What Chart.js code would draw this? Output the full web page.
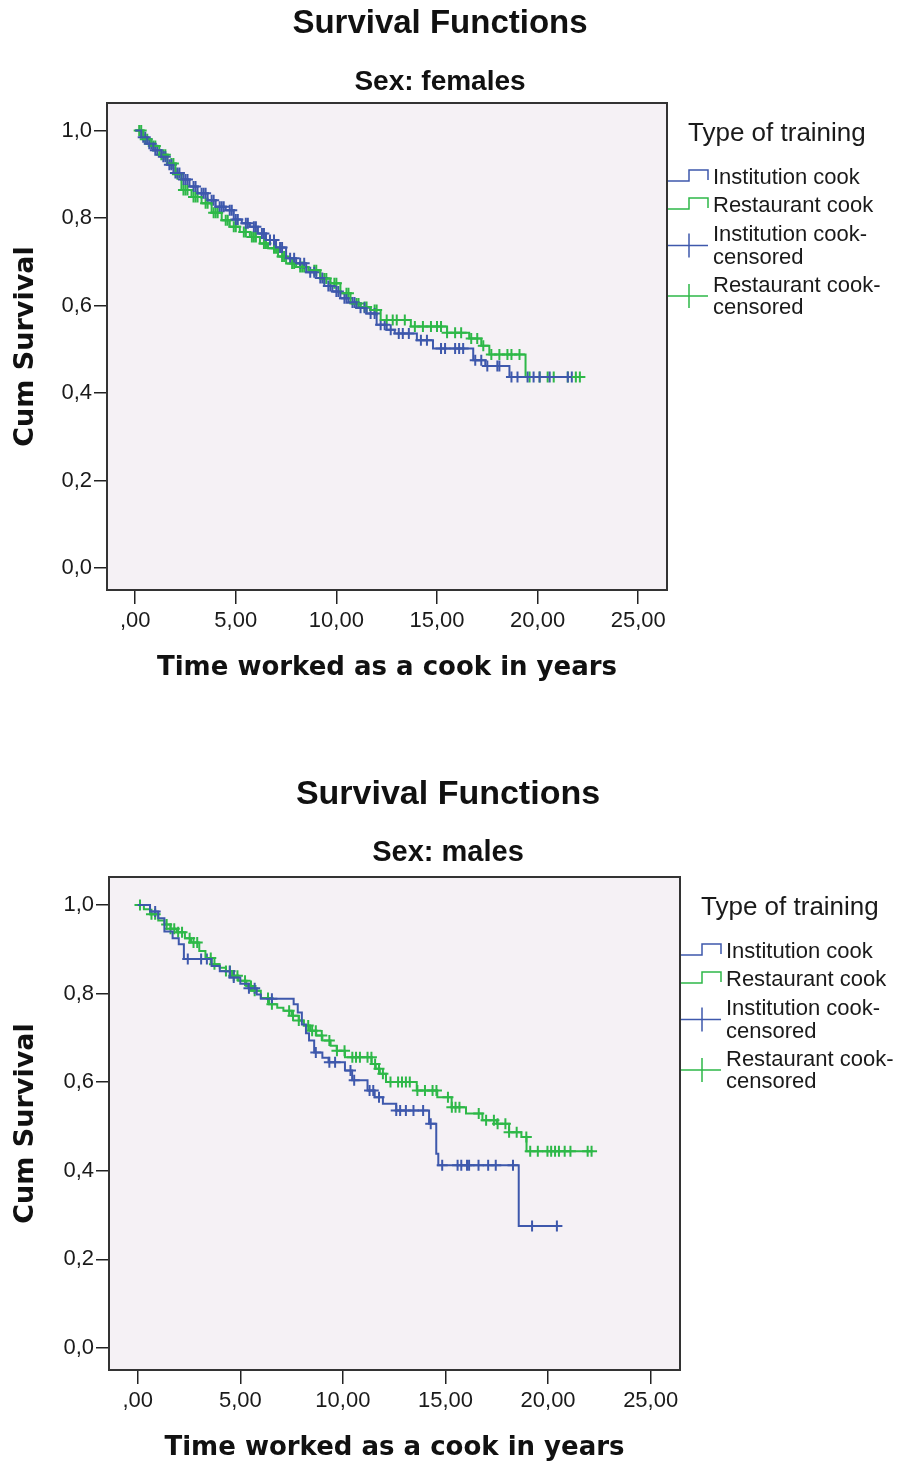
<!DOCTYPE html>
<html>
<head>
<meta charset="utf-8">
<script src="https://cdn.jsdelivr.net/npm/chart.js@4.4.1/dist/chart.umd.min.js"></script>
<style>
  body { margin: 0; background: #fff; }
  canvas { display: block; }
</style>
</head>
<body>
<canvas id="chartF" width="906" height="733"></canvas>
<canvas id="chartM" width="906" height="733"></canvas>
<script>
// axis ticks + labels (SPSS style, comma decimals)
const xTicks = [0, 5, 10, 15, 20, 25];
const xTickLabels = [',00', '5,00', '10,00', '15,00', '20,00', '25,00'];
const yTicks = [0, 0.2, 0.4, 0.6, 0.8, 1.0];
const yTickLabels = ['0,0', '0,2', '0,4', '0,6', '0,8', '1,0'];

const legendTitle = 'Type of training';
const legendLabels = ['Institution cook', 'Restaurant cook', ['Institution cook-', 'censored'], ['Restaurant cook-', 'censored']];

// females - Kaplan-Meier steps (time in years, cum survival)
const femInstT = [0, 0.3, 0.6, 0.9, 1.3, 1.6, 1.9, 2.3, 2.7, 3.1, 3.6, 4.0, 4.5, 4.9, 5.3, 5.7, 6.1, 6.5, 7.0, 7.5, 8.0, 8.5, 9.0, 9.4, 9.8, 10.2, 10.6, 11.0, 11.5, 12.0, 12.5, 12.9, 14.0, 14.8, 16.8, 17.4, 18.6, 21.7];
const femInstS = [1.0, 0.985, 0.97, 0.955, 0.94, 0.922, 0.903, 0.888, 0.872, 0.857, 0.841, 0.826, 0.818, 0.797, 0.788, 0.78, 0.765, 0.75, 0.733, 0.708, 0.697, 0.676, 0.663, 0.645, 0.632, 0.617, 0.607, 0.595, 0.582, 0.556, 0.545, 0.536, 0.521, 0.502, 0.475, 0.462, 0.437, 0.437];
const femInstCens = [0.4, 0.5, 0.7, 0.8, 1.0, 1.1, 1.4, 1.5, 1.7, 1.8, 2.0, 2.1, 2.2, 2.4, 2.5, 2.6, 2.9, 3.0, 3.3, 3.4, 3.5, 3.8, 3.9, 4.2, 4.3, 4.4, 4.7, 4.8, 5.0, 5.1, 5.5, 5.6, 5.9, 6.0, 6.3, 6.4, 6.7, 6.9, 7.2, 7.3, 7.7, 7.9, 8.2, 8.4, 8.7, 8.9, 9.2, 9.3, 9.6, 9.7, 10.0, 10.1, 10.4, 10.5, 10.8, 10.9, 11.2, 11.4, 11.7, 11.9, 12.2, 12.4, 12.7, 13.1, 13.3, 13.6, 14.2, 14.5, 15.2, 15.4, 15.9, 16.1, 16.3, 16.9, 17.2, 17.5, 18.0, 18.1, 18.7, 19.0, 19.5, 19.8, 20.1, 20.6, 21.5, 21.7];

const femRestT = [0, 0.4, 0.8, 1.2, 1.6, 2.0, 2.3, 2.8, 3.3, 3.8, 4.3, 4.7, 5.2, 5.7, 6.2, 6.6, 7.1, 7.5, 8.0, 8.6, 9.2, 9.7, 10.2, 10.7, 11.2, 11.7, 12.2, 13.7, 15.5, 16.6, 17.2, 17.6, 19.4, 22.1];
const femRestS = [1.0, 0.98, 0.965, 0.945, 0.925, 0.9, 0.864, 0.848, 0.834, 0.812, 0.795, 0.78, 0.768, 0.757, 0.742, 0.731, 0.712, 0.696, 0.688, 0.681, 0.662, 0.651, 0.628, 0.605, 0.597, 0.59, 0.567, 0.552, 0.538, 0.525, 0.508, 0.488, 0.437, 0.437];
const femRestCens = [0.2, 0.3, 0.5, 0.6, 0.9, 1.0, 1.3, 1.4, 1.5, 1.8, 1.9, 2.1, 2.4, 2.5, 2.6, 2.9, 3.0, 3.1, 3.5, 3.6, 3.9, 4.0, 4.1, 4.5, 4.6, 4.9, 5.0, 5.4, 5.5, 5.8, 5.9, 6.0, 6.4, 6.5, 6.9, 7.0, 7.3, 7.4, 7.8, 7.9, 8.2, 8.3, 8.4, 8.9, 9.0, 9.4, 9.5, 9.9, 10.0, 10.5, 10.6, 11.0, 11.1, 11.4, 11.5, 11.9, 12.0, 12.5, 12.8, 13.0, 13.4, 13.9, 14.3, 14.7, 15.0, 15.2, 15.5, 15.9, 16.2, 16.7, 17.0, 17.3, 17.7, 18.1, 18.5, 18.7, 19.1, 19.6, 20.1, 20.5, 20.8, 21.5, 21.9, 22.1];

// males
const maleInstT = [0, 0.6, 1.0, 1.3, 1.7, 2.0, 2.25, 3.6, 4.0, 4.5, 5.0, 5.4, 5.8, 6.0, 7.6, 7.8, 8.0, 8.2, 8.35, 8.6, 9.0, 9.3, 10.1, 10.45, 11.2, 11.55, 11.95, 12.6, 14.2, 14.55, 14.65, 18.57, 20.43];
const maleInstS = [1.0, 0.985, 0.97, 0.94, 0.925, 0.911, 0.878, 0.862, 0.85, 0.836, 0.822, 0.812, 0.798, 0.788, 0.776, 0.757, 0.73, 0.71, 0.694, 0.667, 0.655, 0.645, 0.626, 0.604, 0.581, 0.566, 0.551, 0.536, 0.506, 0.438, 0.412, 0.275, 0.275];
const maleInstCens = [0.85, 2.44, 3.09, 3.37, 4.49, 4.68, 5.42, 5.7, 6.54, 8.68, 9.34, 9.62, 10.37, 10.55, 11.3, 11.48, 11.76, 12.6, 12.79, 13.07, 13.44, 13.91, 14.28, 14.84, 15.59, 15.77, 16.05, 16.15, 16.61, 17.08, 17.45, 18.29, 19.22, 20.43];

const maleRestT = [0, 0.3, 0.6, 1.0, 1.3, 1.6, 1.9, 2.3, 2.6, 3.0, 3.3, 3.6, 4.0, 4.3, 4.6, 4.9, 5.3, 5.6, 6.0, 6.4, 6.8, 7.1, 7.5, 7.85, 8.1, 8.4, 8.7, 9.0, 9.4, 9.7, 10.1, 11.4, 11.6, 11.8, 12.1, 13.6, 14.6, 15.3, 16.0, 16.8, 17.5, 18.1, 18.7, 18.95, 22.12];
const maleRestS = [1.0, 0.99, 0.979, 0.965, 0.956, 0.946, 0.938, 0.925, 0.915, 0.896, 0.88, 0.866, 0.858, 0.851, 0.84, 0.829, 0.817, 0.806, 0.79, 0.776, 0.768, 0.761, 0.75, 0.739, 0.728, 0.716, 0.705, 0.694, 0.682, 0.671, 0.656, 0.641, 0.63, 0.619, 0.6, 0.581, 0.566, 0.543, 0.529, 0.514, 0.506, 0.487, 0.476, 0.444, 0.444];
const maleRestCens = [0.11, 0.67, 0.85, 1.41, 1.6, 1.78, 1.97, 2.16, 2.53, 2.72, 2.9, 3.56, 3.74, 4.3, 4.49, 4.68, 4.86, 5.23, 5.52, 5.7, 6.35, 6.54, 7.38, 7.57, 7.85, 8.31, 8.5, 8.68, 8.97, 9.34, 9.71, 10.08, 10.46, 10.64, 10.83, 11.2, 11.39, 11.57, 11.76, 11.95, 12.32, 12.69, 12.88, 13.07, 13.26, 13.63, 14.0, 14.37, 14.56, 15.12, 15.31, 15.49, 15.68, 16.62, 16.98, 17.36, 17.54, 17.92, 18.1, 18.47, 18.94, 19.13, 19.5, 19.97, 20.15, 20.34, 20.53, 20.81, 21.09, 21.93, 22.12];

const BLUE = '#3e58ac';
const GREEN = '#2eb848';
const SANS = '"Liberation Sans", Arial, sans-serif';

Chart.defaults.font.family = SANS;
Chart.defaults.color = '#1a1a1a';

// survival value at time t (value of the step curve)
function kmAt(ts, ss, t) {
  let s = ss[0];
  for (let i = 0; i < ts.length; i++) {
    if (ts[i] <= t) s = ss[i];
  }
  return s;
}

function kmSet(ts, ss, color) {
  return {
    data: ts.map((t, i) => ({ x: t, y: ss[i] })),
    showLine: true, stepped: true, borderColor: color, borderWidth: 2,
    pointRadius: 0, fill: false
  };
}

function censSet(cs, ts, ss, color) {
  return {
    data: cs.map(t => ({ x: t, y: kmAt(ts, ss, t) })),
    showLine: false, pointStyle: 'cross', pointRadius: 5.5,
    borderColor: color, backgroundColor: color, borderWidth: 2
  };
}

const plotFrame = {
  id: 'plotFrame',
  beforeDraw(chart) {
    const a = chart.chartArea, c = chart.ctx;
    c.save();
    c.fillStyle = '#f5f1f5';
    c.fillRect(a.left, a.top, a.right - a.left, a.bottom - a.top);
    c.restore();
  },
  afterDatasetsDraw(chart) {
    const a = chart.chartArea, c = chart.ctx;
    c.save();
    c.strokeStyle = '#333';
    c.lineWidth = 2;
    c.strokeRect(a.left, a.top, a.right - a.left, a.bottom - a.top);
    c.restore();
  }
};

const heading = {
  id: 'heading',
  afterDraw(chart, args, o) {
    const c = chart.ctx;
    c.save();
    c.fillStyle = '#111';
    c.textAlign = 'center';
    c.textBaseline = 'middle';
    c.font = 'bold ' + o.size1 + 'px ' + SANS;
    c.fillText(o.title, o.x, o.y1);
    c.font = 'bold ' + o.size2 + 'px ' + SANS;
    c.fillText(o.sub, o.x, o.y2);
    c.restore();
  }
};

const kmLegend = {
  id: 'kmLegend',
  afterDraw(chart) {
    const c = chart.ctx, R = chart.chartArea.right, T = chart.chartArea.top;
    const rows = [T + 75, T + 103, [T + 132, T + 155], [T + 183, T + 205]];
    const colors = [BLUE, GREEN, BLUE, GREEN];
    c.save();
    c.fillStyle = '#1a1a1a';
    c.textAlign = 'left';
    c.textBaseline = 'middle';
    c.font = '26px ' + SANS;
    c.fillText(legendTitle, R + 21, T + 31);
    c.font = '22px ' + SANS;
    c.lineWidth = 1.5;
    legendLabels.forEach((lab, i) => {
      c.strokeStyle = colors[i];
      c.beginPath();
      if (i < 2) {
        const cy = rows[i];
        c.moveTo(R + 1, cy + 3);
        c.lineTo(R + 22, cy + 3);
        c.lineTo(R + 22, cy - 8);
        c.lineTo(R + 41, cy - 8);
        c.lineTo(R + 41, cy + 2);
        c.stroke();
        c.fillText(lab, R + 46, cy);
      } else {
        const cy = (rows[i][0] + rows[i][1]) / 2 - 1;
        c.moveTo(R + 1, cy);
        c.lineTo(R + 41, cy);
        c.moveTo(R + 22, cy - 12);
        c.lineTo(R + 22, cy + 12);
        c.stroke();
        c.fillText(lab[0], R + 46, rows[i][0]);
        c.fillText(lab[1], R + 46, rows[i][1]);
      }
    });
    c.restore();
  }
};

function makeChart(id, sets, o) {
  return new Chart(document.getElementById(id), {
    type: 'scatter',
    data: { datasets: sets },
    plugins: [plotFrame, heading, kmLegend],
    options: {
      responsive: false,
      animation: false,
      events: [],
      layout: { padding: { left: 0, right: o.padRight, top: o.padTop, bottom: 0 } },
      plugins: {
        legend: { display: false },
        tooltip: { enabled: false },
        heading: o.heading
      },
      scales: {
        x: {
          type: 'linear', min: -1.4, max: 26.43,
          afterBuildTicks: s => { s.ticks = xTicks.map(v => ({ value: v })); },
          afterFit: s => { s.height = o.xHeight; },
          ticks: { callback: (v, i) => xTickLabels[i], font: { size: 22 }, padding: 4, maxRotation: 0, autoSkip: false },
          grid: { drawOnChartArea: false, drawTicks: true, tickLength: 14, color: '#222', lineWidth: 1.5 },
          border: { display: false },
          title: {
            display: true, text: 'Time worked as a cook in years', color: '#111',
            font: { family: '"DejaVu Sans"', size: 26, weight: 'bold' },
            padding: { top: 0, bottom: o.xTitlePad }
          }
        },
        y: {
          min: -0.05, max: 1.063,
          afterBuildTicks: s => { s.ticks = yTicks.map(v => ({ value: v })); },
          afterFit: s => { s.width = o.yWidth; },
          ticks: { callback: (v, i) => yTickLabels[i], font: { size: 22 }, padding: 2 },
          grid: { drawOnChartArea: false, drawTicks: true, tickLength: 13, color: '#222', lineWidth: 1.5 },
          border: { display: false },
          title: {
            display: true, text: 'Cum Survival', color: '#111',
            font: { family: '"DejaVu Sans"', size: 27, weight: 'bold' },
            padding: { top: 10, bottom: 0 }
          }
        }
      }
    }
  });
}

makeChart('chartF', [
  kmSet(femInstT, femInstS, BLUE),
  kmSet(femRestT, femRestS, GREEN),
  censSet(femInstCens, femInstT, femInstS, BLUE),
  censSet(femRestCens, femRestT, femRestS, GREEN)
], {
  padRight: 239, padTop: 103, xHeight: 143, yWidth: 107, xTitlePad: 49,
  heading: { title: 'Survival Functions', sub: 'Sex: females', x: 440, y1: 24, y2: 82, size1: 33, size2: 28 }
});

makeChart('chartM', [
  kmSet(maleInstT, maleInstS, BLUE),
  kmSet(maleRestT, maleRestS, GREEN),
  censSet(maleInstCens, maleInstT, maleInstS, BLUE),
  censSet(maleRestCens, maleRestT, maleRestS, GREEN)
], {
  padRight: 226, padTop: 144, xHeight: 96, yWidth: 109, xTitlePad: 2,
  heading: { title: 'Survival Functions', sub: 'Sex: males', x: 448, y1: 62, y2: 120, size1: 34, size2: 29 }
});
</script>
</body>
</html>
